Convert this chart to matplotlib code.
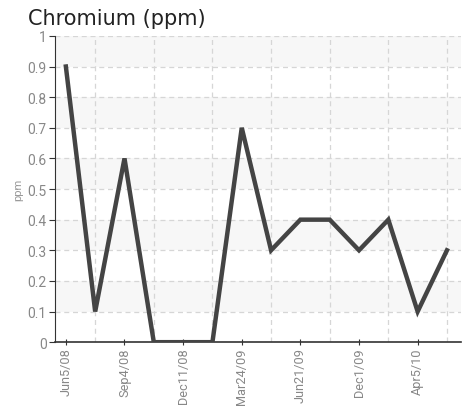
import numpy as np
import matplotlib.pyplot as plt

dates = ['Jun5/08', '', 'Sep4/08', '', 'Dec11/08', '', 'Mar24/09', '',
         'Jun21/09', '', 'Dec1/09', '', 'Apr5/10', '']
chromium = [0.9, 0.1, 0.6, 0.0, 0.0, 0.0, 0.7, 0.3, 0.4, 0.4, 0.3, 0.4, 0.1, 0.3]
yticks = [0, 0.1, 0.2, 0.3, 0.4, 0.5, 0.6, 0.7, 0.8, 0.9, 1]

narrow = ['Roboto', 'DejaVu Sans']

fig = plt.figure(figsize=(4.69, 4.10), dpi=100)
ax = fig.add_axes([0.117, 0.163, 0.866, 0.747])

x = np.arange(len(chromium))

# alternating bands
for lo in [0.1, 0.3, 0.5, 0.7, 0.9]:
    ax.axhspan(lo, lo + 0.1, color='#f7f7f7', zorder=0, lw=0)

ax.set_xlim(-0.375, len(chromium) - 1 + 0.48)
ax.set_ylim(0, 1)

ax.set_yticks(yticks)
ax.set_yticklabels(['0' if v == 0 else ('1' if v == 1 else str(v)) for v in yticks],
                   family=narrow, fontsize=10, color='#888888')

ax.set_xticks(x, minor=True)
ax.set_xticks(x[::2])
ax.set_xticklabels([d for d in dates if d], rotation=90, family=narrow,
                   fontsize=9.2, color='#888888')
ax.tick_params(axis='x', which='minor', length=0)
ax.tick_params(axis='x', which='major', length=5, direction='inout', color='#333333', pad=1)
ax.tick_params(axis='y', length=4, direction='out', color='#333333', pad=2)

ax.grid(True, axis='y', which='major', ls=(0, (4, 3)), color='#d6d6d6', lw=0.9)
ax.grid(True, axis='x', which='minor', ls=(0, (4, 3)), color='#d6d6d6', lw=0.9)

ax.plot(x, chromium, color='#444444', lw=3.2, zorder=3, solid_joinstyle='miter')

for s in ['top', 'right']:
    ax.spines[s].set_visible(False)
ax.spines['left'].set_color('#333333')
ax.spines['bottom'].set_color('#333333')
ax.spines['bottom'].set_linewidth(1.2)

ax.set_ylabel('ppm', fontsize=8, color='#999999', labelpad=3, family=narrow)
fig.text(0.06, 0.94, 'Chromium (ppm)', fontsize=15, color='#222222')

fig.savefig('out.png', dpi=100)
